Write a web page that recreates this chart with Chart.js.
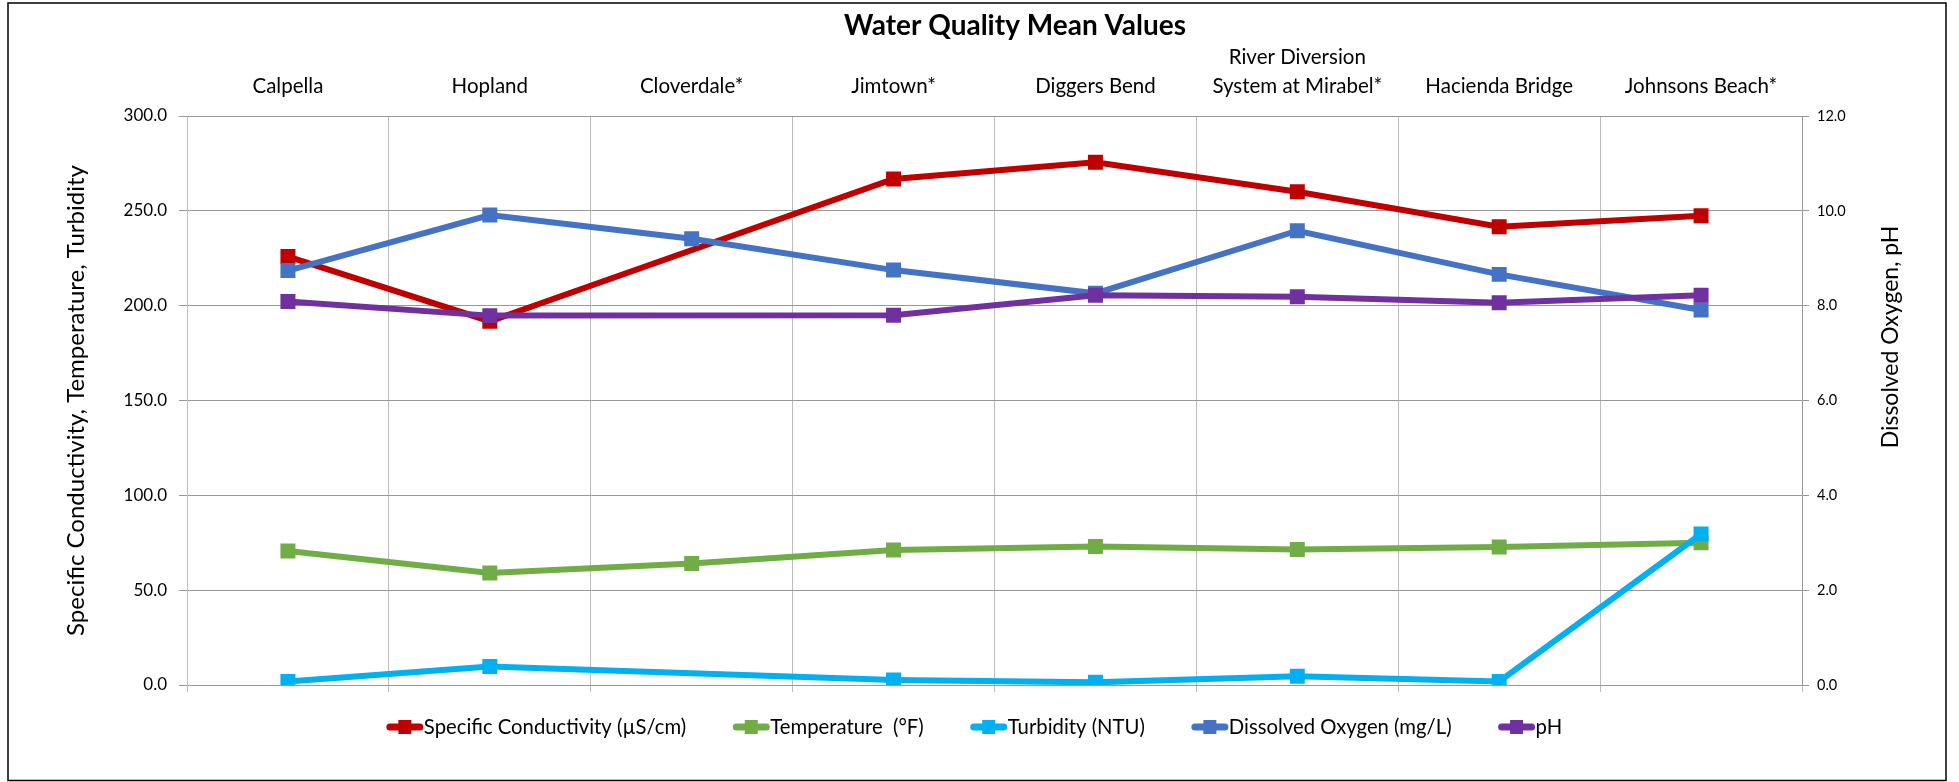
<!DOCTYPE html>
<html><head><meta charset="utf-8">
<script src="https://cdn.jsdelivr.net/npm/chart.js@4.4.0/dist/chart.umd.min.js"></script>
<style>html,body{margin:0;padding:0;background:#fff;}</style>
</head><body>
<canvas id="c" width="1959" height="782"></canvas>
<script>
const categories = ['Calpella', 'Hopland', 'Cloverdale*', 'Jimtown*', 'Diggers Bend', ['River Diversion', 'System at Mirabel*'], 'Hacienda Bridge', 'Johnsons Beach*'];
const conductivity = [225.9, 191.8, null, 266.8, 275.6, 260.1, 241.6, 247.4];
const temperature = [70.6, 59.0, 64.0, 71.2, 73.0, 71.5, 72.8, 75.0];
const turbidity = [1.9, 9.8, null, 2.7, 1.4, 4.6, 1.9, 79.6];
const dissolvedOxygen = [8.74, 9.91, 9.41, 8.75, 8.26, 9.58, 8.66, 7.91];
const pH = [8.09, 7.79, null, 7.80, 8.22, 8.19, 8.06, 8.22];
const leftTicks = [0, 50, 100, 150, 200, 250, 300];
const rightTicks = [0, 2, 4, 6, 8, 10, 12];
const seriesLabels = ['Specific Conductivity (µS/cm)', 'Temperature  (°F)', 'Turbidity (NTU)', 'Dissolved Oxygen (mg/L)', 'pH'];
const seriesColors = ['#C00000', '#70AD47', '#00B0F0', '#4472C4', '#7030A0'];
const chartTitle = 'Water Quality Mean Values';
const leftAxisTitle = 'Specific Conductivity, Temperature, Turbidity';
const rightAxisTitle = 'Dissolved Oxygen, pH';

const FONT = 'Lato, "Open Sans", sans-serif';
const GRID_H = '#989898';
const GRID_V = '#BDBDBD';

const seriesData = [conductivity, temperature, turbidity, dissolvedOxygen, pH];
const seriesAxis = ['y', 'y', 'y', 'y2', 'y2'];
const datasets = seriesData.map((d, i) => ({
  label: seriesLabels[i],
  data: d,
  yAxisID: seriesAxis[i],
  xAxisID: 'x',
  borderColor: seriesColors[i],
  backgroundColor: seriesColors[i],
  pointBackgroundColor: seriesColors[i],
  pointBorderWidth: 0,
  pointStyle: 'rect',
  pointRadius: 10.6,
  pointHoverRadius: 10.6,
  borderWidth: 6,
  tension: 0,
  spanGaps: true,
  order: 5 - i
}));

const frame = {
  id: 'frame',
  beforeDraw(chart) {
    const ctx = chart.ctx;
    ctx.save(); ctx.fillStyle = '#fff'; ctx.fillRect(0, 0, chart.width, chart.height); ctx.restore();
  },
  afterDraw(chart) {
    const ctx = chart.ctx;
    const area = chart.chartArea;
    ctx.save();
    ctx.strokeStyle = '#000'; ctx.lineWidth = 1.5;
    ctx.strokeRect(8, 3, 1938, 777.5);

    // chart title
    ctx.font = 'bold 28px ' + FONT;
    ctx.fillStyle = '#000';
    ctx.textAlign = 'center'; ctx.textBaseline = 'middle';
    ctx.fillText(chartTitle, 1015, 26);

    // legend
    ctx.font = '20.3px ' + FONT;
    const items = chart.data.datasets.map(ds => ({ text: ds.label, color: ds.borderColor, w: ctx.measureText(ds.label).width }));
    const MW = 38, GAP = 46;
    const total = items.reduce((s, it) => s + MW + it.w, 0) + GAP * (items.length - 1);
    let x = 974 - total / 2;
    const y = area.bottom + 42;
    items.forEach(it => {
      ctx.strokeStyle = it.color; ctx.lineWidth = 7; ctx.lineCap = 'round';
      ctx.beginPath(); ctx.moveTo(x + 4, y); ctx.lineTo(x + 34, y); ctx.stroke();
      ctx.fillStyle = it.color; ctx.fillRect(x + 19 - 6.5, y - 7, 13, 14);
      ctx.fillStyle = '#000'; ctx.textAlign = 'left'; ctx.textBaseline = 'middle';
      ctx.fillText(it.text, x + MW, y);
      x += MW + it.w + GAP;
    });

    // right axis title (reads bottom-to-top)
    ctx.translate(area.right + 89, area.top + 221);
    ctx.rotate(-Math.PI / 2);
    ctx.font = '23px ' + FONT;
    ctx.fillStyle = '#000';
    ctx.textAlign = 'center'; ctx.textBaseline = 'middle';
    ctx.fillText(rightAxisTitle, 0, 0);
    ctx.restore();
  }
};

new Chart(document.getElementById('c'), {
  type: 'line',
  data: { labels: categories, datasets },
  plugins: [frame],
  options: {
    responsive: false,
    devicePixelRatio: 1,
    animation: false,
    layout: { padding: { left: 59, right: 53, top: 40, bottom: 90 } },
    plugins: {
      tooltip: { enabled: false },
      title: { display: false },
      legend: { display: false }
    },
    scales: {
      x: {
        type: 'category', position: 'bottom', offset: true,
        grid: { offset: true, color: GRID_V, lineWidth: 1, drawTicks: true, tickLength: 7, tickColor: GRID_V },
        border: { display: true, color: GRID_H },
        ticks: { display: false },
        afterFit(s) { s.height = 7; }
      },
      x2: {
        type: 'category', labels: categories, position: 'top', offset: true,
        grid: { display: false, drawTicks: false },
        border: { display: false },
        ticks: { color: '#000', font: { family: FONT, size: 20.5, lineHeight: 1.41 }, padding: 15.5, maxRotation: 0, autoSkip: false },
        afterFit(s) { s.height = 76; }
      },
      y: {
        position: 'left', min: 0, max: 300,
        afterBuildTicks(s) { s.ticks = leftTicks.map(v => ({ value: v })); },
        grid: { color: GRID_H, tickLength: 8, tickColor: GRID_H },
        border: { color: GRID_V },
        ticks: { color: '#000', font: { family: FONT, size: 17 }, padding: 12, callback: v => Number(v).toFixed(1) },
        title: { display: true, text: leftAxisTitle, color: '#000', font: { family: FONT, size: 24, lineHeight: 1.2 }, padding: { top: 2.4, bottom: 0 } },
        afterFit(s) { s.width = 128; }
      },
      y2: {
        position: 'right', min: 0, max: 12,
        afterBuildTicks(s) { s.ticks = rightTicks.map(v => ({ value: v })); },
        grid: { drawOnChartArea: false, tickLength: 7, tickColor: GRID_H, color: GRID_H },
        border: { color: GRID_H },
        ticks: { color: '#000', font: { family: FONT, size: 14.5 }, padding: 8, callback: v => Number(v).toFixed(1) },
        afterFit(s) { s.width = 104; }
      }
    }
  }
});
</script>
</body></html>
